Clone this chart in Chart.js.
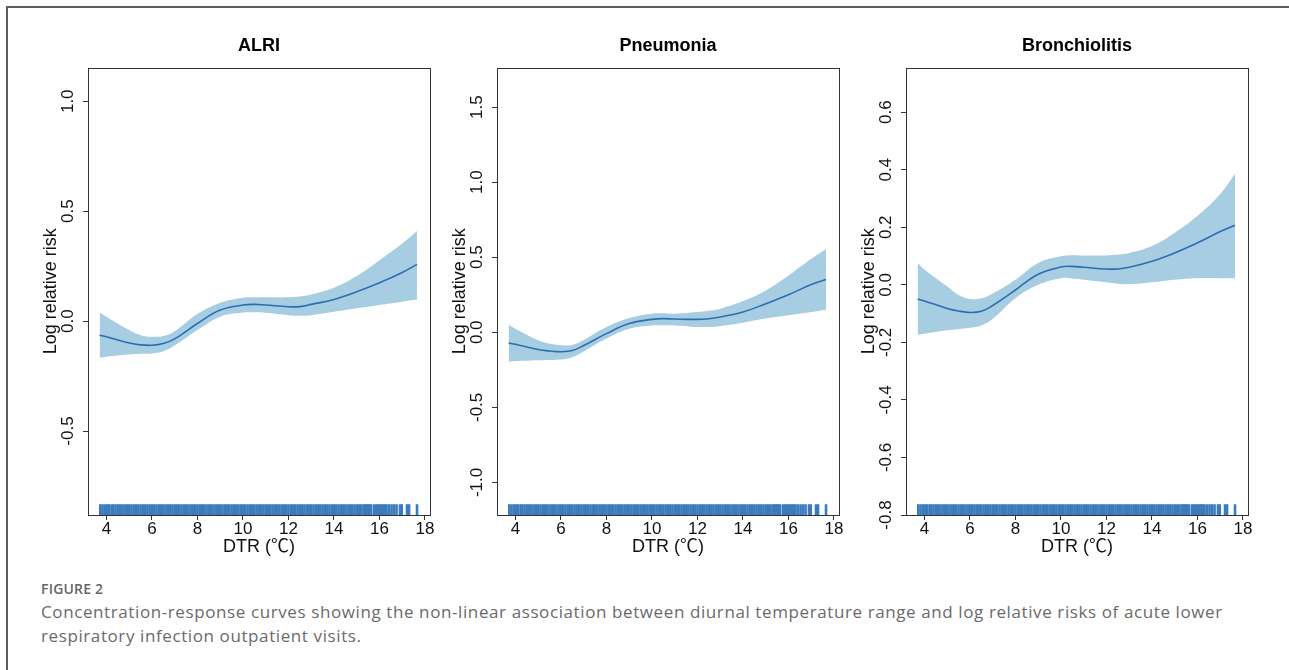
<!DOCTYPE html>
<html>
<head>
<meta charset="utf-8">
<script src="https://cdn.jsdelivr.net/npm/chart.js@4.4.1/dist/chart.umd.min.js"></script>
<style>
  body { margin: 0; background: #fff; width: 1289px; height: 670px; overflow: hidden; position: relative; }
  .frame { position: absolute; left: 6px; top: 6px; width: 1300px; height: 700px; border-top: 2px solid #5c5c5c; border-left: 2px solid #5c5c5c; }
  .panel { position: absolute; top: 10px; width: 402px; height: 551px; }
  .fig { position: absolute; left: 41px; top: 581px; font-family: "Open Sans", sans-serif; font-size: 14px; line-height: 16px; font-weight: 600; letter-spacing: 0.2px; color: #666; }
  .cap { position: absolute; left: 41px; top: 600px; font-family: "Open Sans", sans-serif; font-size: 17px; line-height: 24px; letter-spacing: 0.6px; color: #6a6a6a; white-space: nowrap; }
</style>
</head>
<body>
<div class="frame"></div>
<canvas id="c0" class="panel" width="402" height="551" style="left:38px"></canvas>
<canvas id="c1" class="panel" width="402" height="551" style="left:447px"></canvas>
<canvas id="c2" class="panel" width="402" height="551" style="left:856px"></canvas>
<div class="fig">FIGURE 2</div>
<div class="cap">Concentration-response curves showing the non-linear association between diurnal temperature range and log relative risks of acute lower<br>respiratory infection outpatient visits.</div>

<script>
const dtr = [3.7, 4, 5, 5.5, 6, 6.5, 7, 8, 9, 10, 10.5, 11, 12, 12.5, 13, 14, 15, 16, 17, 17.65];

// ALRI
const alriFit   = [-0.064, -0.071, -0.100, -0.108, -0.110, -0.102, -0.081, -0.011, 0.050, 0.073, 0.076, 0.073, 0.065, 0.066, 0.076, 0.098, 0.133, 0.174, 0.221, 0.258];
const alriUpper = [0.039, 0.020, -0.041, -0.064, -0.071, -0.068, -0.046, 0.032, 0.083, 0.106, 0.108, 0.108, 0.108, 0.112, 0.121, 0.152, 0.205, 0.277, 0.353, 0.410];
const alriLower = [-0.167, -0.162, -0.152, -0.149, -0.147, -0.137, -0.111, -0.041, 0.020, 0.039, 0.040, 0.038, 0.027, 0.024, 0.027, 0.042, 0.058, 0.073, 0.088, 0.098];

// Pneumonia
const pneuFit   = [-0.071, -0.080, -0.115, -0.125, -0.130, -0.122, -0.088, -0.009, 0.058, 0.086, 0.091, 0.088, 0.086, 0.090, 0.102, 0.135, 0.190, 0.250, 0.319, 0.352];
const pneuUpper = [0.051, 0.024, -0.053, -0.075, -0.086, -0.084, -0.051, 0.035, 0.095, 0.124, 0.126, 0.124, 0.135, 0.143, 0.157, 0.208, 0.279, 0.378, 0.489, 0.555];
const pneuLower = [-0.197, -0.192, -0.186, -0.184, -0.181, -0.166, -0.128, -0.042, 0.024, 0.046, 0.047, 0.046, 0.035, 0.035, 0.042, 0.064, 0.091, 0.113, 0.135, 0.150];

// Bronchiolitis
const bronFit   = [-0.049, -0.056, -0.082, -0.091, -0.096, -0.092, -0.072, -0.018, 0.037, 0.062, 0.064, 0.061, 0.055, 0.055, 0.061, 0.082, 0.111, 0.146, 0.185, 0.207];
const bronUpper = [0.076, 0.053, -0.006, -0.035, -0.049, -0.047, -0.030, 0.018, 0.076, 0.099, 0.103, 0.102, 0.102, 0.105, 0.111, 0.135, 0.181, 0.240, 0.316, 0.386];
const bronLower = [-0.173, -0.170, -0.158, -0.154, -0.149, -0.141, -0.119, -0.047, 0.000, 0.023, 0.022, 0.018, 0.009, 0.004, 0.002, 0.009, 0.018, 0.023, 0.023, 0.023];

// observed daily DTR values (rug)
const rugDtr = [3.73, 3.83, 3.94, 4.04, 4.10, 4.22, 4.30, 4.40, 4.50, 4.60, 4.70, 4.80, 4.90,
  5.00, 5.10, 5.20, 5.30, 5.40, 5.50, 5.60, 5.70, 5.80, 5.90, 6.00, 6.10, 6.20, 6.30, 6.40, 6.50, 6.60, 6.70, 6.80, 6.90,
  7.00, 7.10, 7.20, 7.30, 7.40, 7.50, 7.60, 7.70, 7.80, 7.90, 8.00, 8.10, 8.20, 8.30, 8.40, 8.50, 8.60, 8.70, 8.80, 8.90,
  9.00, 9.10, 9.20, 9.30, 9.40, 9.50, 9.60, 9.70, 9.80, 9.90, 10.00, 10.10, 10.20, 10.30, 10.40, 10.50, 10.60, 10.70, 10.80, 10.90,
  11.00, 11.10, 11.20, 11.30, 11.40, 11.50, 11.60, 11.70, 11.80, 11.90, 12.00, 12.10, 12.20, 12.30, 12.40, 12.50, 12.60, 12.70, 12.80, 12.90,
  13.00, 13.10, 13.20, 13.30, 13.40, 13.50, 13.60, 13.70, 13.80, 13.90, 14.00, 14.10, 14.20, 14.30, 14.40, 14.50, 14.60, 14.70, 14.80, 14.90,
  15.00, 15.10, 15.20, 15.30, 15.36, 15.43, 15.50, 15.54, 15.63, 15.76, 15.86, 15.94, 16.01, 16.09, 16.16, 16.23, 16.31,
  16.42, 16.53, 16.64, 16.75, 16.90, 16.98, 17.21, 17.30, 17.65];

const xTicks = [4, 6, 8, 10, 12, 14, 16, 18];
const alriTicks = [-0.5, 0.0, 0.5, 1.0];
const pneuTicks = [-1.0, -0.5, 0.0, 0.5, 1.0, 1.5];
const bronTicks = [-0.8, -0.6, -0.4, -0.2, 0.0, 0.2, 0.4, 0.6];

const FONT = '"Liberation Sans", Arial, Helvetica, "Noto Sans CJK SC", sans-serif';
const BAND_COLOR = '#a7cde3';
const LINE_COLOR = '#2c6db2';
const RUG_COLOR = '#3a7bbd';
const AXIS_COLOR = '#333';

// draws the full R-style box around the plot region
const plotBox = {
    id: 'plotBox',
    afterDraw(chart) {
        const a = chart.chartArea;
        const ctx = chart.ctx;
        ctx.save();
        ctx.strokeStyle = AXIS_COLOR;
        ctx.lineWidth = 1;
        ctx.strokeRect(Math.round(a.left) + 0.5, Math.round(a.top) + 0.5,
            Math.round(a.right - a.left), Math.round(a.bottom - a.top));
        ctx.restore();
    }
};

function points(ys) {
    return dtr.map((x, i) => ({ x: x, y: ys[i] }));
}

function makePanel(id, title, fit, upper, lower, yTicks, yMin, yMax) {
    const ctx = document.getElementById(id);
    return new Chart(ctx, {
        type: 'line',
        data: {
            datasets: [
                { data: points(fit), borderColor: LINE_COLOR, borderWidth: 1.6, pointRadius: 0, fill: false, tension: 0.4 },
                { data: points(upper), borderWidth: 0, pointRadius: 0, fill: '+1', backgroundColor: BAND_COLOR, tension: 0.4 },
                { data: points(lower), borderWidth: 0, pointRadius: 0, fill: false, tension: 0.4 },
                {
                    data: rugDtr.map(x => ({ x: x, y: 1 })), yAxisID: 'yRug', showLine: false,
                    pointStyle: 'line', pointRotation: 90, pointRadius: 5.35,
                    pointBorderWidth: 2.6, pointBorderColor: RUG_COLOR, pointBackgroundColor: RUG_COLOR
                }
            ]
        },
        options: {
            responsive: false,
            animation: false,
            events: [],
            layout: { padding: { left: 0, right: 10, top: 0, bottom: 0 } },
            plugins: {
                legend: { display: false },
                tooltip: { enabled: false },
                title: {
                    display: true, text: title, color: '#000', fullSize: false,
                    font: { family: FONT, size: 18, weight: 'bold' },
                    padding: { top: 25, bottom: 11 }
                }
            },
            scales: {
                x: {
                    type: 'linear', min: 3.19, max: 18.22,
                    afterBuildTicks: s => { s.ticks = xTicks.map(v => ({ value: v })); },
                    afterFit: s => { s.height = 46; },
                    grid: { drawOnChartArea: false, tickLength: 5, color: AXIS_COLOR },
                    border: { display: false },
                    ticks: { autoSkip: false, maxRotation: 0, padding: -1, color: '#111', font: { family: FONT, size: 17 } },
                    title: { display: true, text: 'DTR (℃)', color: '#111', font: { family: FONT, size: 18 }, padding: { top: 0, bottom: 3 } }
                },
                y: {
                    type: 'linear', min: yMin, max: yMax,
                    afterBuildTicks: s => { s.ticks = yTicks.map(v => ({ value: v })); },
                    afterFit: s => { s.width = 50; },
                    grid: { drawOnChartArea: false, tickLength: 5, color: AXIS_COLOR },
                    border: { display: false },
                    ticks: {
                        autoSkip: false, minRotation: 90, maxRotation: 90, crossAlign: 'center', padding: 0,
                        color: '#111', font: { family: FONT, size: 17 },
                        callback: v => v.toFixed(1)
                    },
                    title: { display: true, text: 'Log relative risk', color: '#111', font: { family: FONT, size: 18 }, padding: { top: 2, bottom: 0 } }
                },
                yRug: { type: 'linear', axis: 'y', display: false, min: 0, max: 84 }
            }
        },
        plugins: [plotBox]
    });
}

makePanel('c0', 'ALRI', alriFit, alriUpper, alriLower, alriTicks, -0.882, 1.153);
makePanel('c1', 'Pneumonia', pneuFit, pneuUpper, pneuLower, pneuTicks, -1.217, 1.763);
makePanel('c2', 'Bronchiolitis', bronFit, bronUpper, bronLower, bronTicks, -0.8, 0.755);
</script>
</body>
</html>
